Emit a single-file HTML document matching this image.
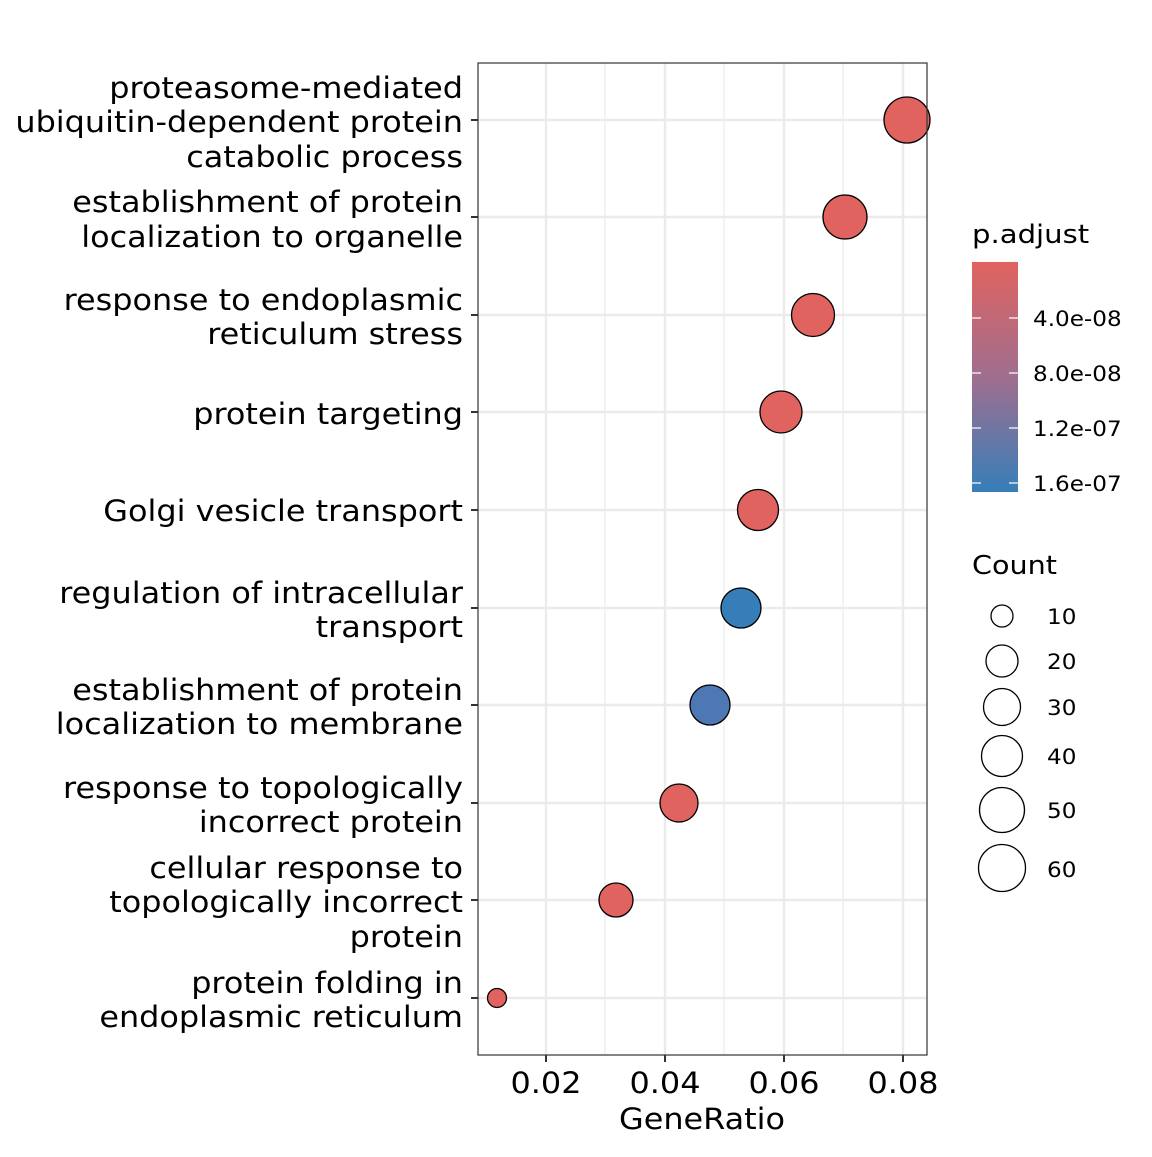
<!DOCTYPE html>
<html><head><meta charset="utf-8"><style>body{margin:0;background:#fff}</style></head><body>
<svg width="1152" height="1152" xmlns="http://www.w3.org/2000/svg" font-family="'DejaVu Sans','Liberation Sans',sans-serif">
<defs><linearGradient id="g" x1="0" y1="0" x2="0" y2="1"><stop offset="0" stop-color="#E0635F"/><stop offset="0.5" stop-color="#A06E8F"/><stop offset="1" stop-color="#377EB8"/></linearGradient></defs>
<rect x="478" y="63" width="449" height="992" fill="#fff"/>
<g stroke="#ebebeb" stroke-width="1.2">
<line x1="605" y1="63" x2="605" y2="1055"/><line x1="724" y1="63" x2="724" y2="1055"/><line x1="843" y1="63" x2="843" y2="1055"/>
</g>
<g stroke="#ebebeb" stroke-width="2.4">
<line x1="546" y1="63" x2="546" y2="1055"/><line x1="665" y1="63" x2="665" y2="1055"/><line x1="784" y1="63" x2="784" y2="1055"/><line x1="903" y1="63" x2="903" y2="1055"/>
<line x1="478" y1="120" x2="927" y2="120"/><line x1="478" y1="217" x2="927" y2="217"/><line x1="478" y1="315" x2="927" y2="315"/><line x1="478" y1="412" x2="927" y2="412"/><line x1="478" y1="510" x2="927" y2="510"/><line x1="478" y1="608" x2="927" y2="608"/><line x1="478" y1="705" x2="927" y2="705"/><line x1="478" y1="803" x2="927" y2="803"/><line x1="478" y1="900" x2="927" y2="900"/><line x1="478" y1="998" x2="927" y2="998"/>
</g>
<g stroke="#000" stroke-width="1.3">
<circle cx="907" cy="120" r="23" fill="#E0635F"/>
<circle cx="845" cy="217" r="22" fill="#E0635F"/>
<circle cx="813" cy="315" r="21.5" fill="#E0635F"/>
<circle cx="781" cy="412" r="21" fill="#E0635F"/>
<circle cx="758" cy="510" r="20.5" fill="#E0635F"/>
<circle cx="741" cy="608" r="20" fill="#377EB8"/>
<circle cx="710" cy="705" r="20" fill="#4E78B3"/>
<circle cx="679" cy="803" r="19" fill="#E0635F"/>
<circle cx="616" cy="900" r="17" fill="#E0635F"/>
<circle cx="497" cy="998" r="9.5" fill="#E0635F"/>
</g>
<rect x="478" y="63" width="449" height="992" fill="none" stroke="#333" stroke-width="1.2"/>
<g stroke="#333" stroke-width="2">
<line x1="471" y1="120" x2="478" y2="120"/><line x1="471" y1="217" x2="478" y2="217"/><line x1="471" y1="315" x2="478" y2="315"/><line x1="471" y1="412" x2="478" y2="412"/><line x1="471" y1="510" x2="478" y2="510"/><line x1="471" y1="608" x2="478" y2="608"/><line x1="471" y1="705" x2="478" y2="705"/><line x1="471" y1="803" x2="478" y2="803"/><line x1="471" y1="900" x2="478" y2="900"/><line x1="471" y1="998" x2="478" y2="998"/>
<line x1="546" y1="1055" x2="546" y2="1062"/><line x1="665" y1="1055" x2="665" y2="1062"/><line x1="784" y1="1055" x2="784" y2="1062"/><line x1="903" y1="1055" x2="903" y2="1062"/>
</g>
<g font-size="29" fill="#000" text-anchor="middle">
<text transform="translate(546,0) scale(1.1,1)" x="0" y="1093">0.02</text>
<text transform="translate(665,0) scale(1.1,1)" x="0" y="1093">0.04</text>
<text transform="translate(784,0) scale(1.1,1)" x="0" y="1093">0.06</text>
<text transform="translate(903,0) scale(1.1,1)" x="0" y="1093">0.08</text>
<text transform="translate(702,0) scale(1.1,1)" x="0" y="1129">GeneRatio</text>
</g>
<g font-size="29" fill="#000" text-anchor="end" transform="translate(463,0) scale(1.1,1)">
<text x="0" y="98">proteasome-mediated</text><text x="0" y="132">ubiquitin-dependent protein</text><text x="0" y="167">catabolic process</text>
<text x="0" y="212">establishment of protein</text><text x="0" y="247">localization to organelle</text>
<text x="0" y="310">response to endoplasmic</text><text x="0" y="344">reticulum stress</text>
<text x="0" y="424">protein targeting</text>
<text x="0" y="521">Golgi vesicle transport</text>
<text x="0" y="603">regulation of intracellular</text><text x="0" y="637">transport</text>
<text x="0" y="700">establishment of protein</text><text x="0" y="734">localization to membrane</text>
<text x="0" y="798">response to topologically</text><text x="0" y="832">incorrect protein</text>
<text x="0" y="878">cellular response to</text><text x="0" y="912">topologically incorrect</text><text x="0" y="947">protein</text>
<text x="0" y="993">protein folding in</text><text x="0" y="1027">endoplasmic reticulum</text>
</g>
<text transform="translate(972,0) scale(1.12,1)" x="0" y="243" font-size="26">p.adjust</text>
<rect x="972" y="262" width="46" height="230" fill="url(#g)"/>
<g stroke="#fff" stroke-width="1.2">
<line x1="972" y1="318" x2="981" y2="318"/><line x1="1009" y1="318" x2="1018" y2="318"/>
<line x1="972" y1="373" x2="981" y2="373"/><line x1="1009" y1="373" x2="1018" y2="373"/>
<line x1="972" y1="428" x2="981" y2="428"/><line x1="1009" y1="428" x2="1018" y2="428"/>
<line x1="972" y1="483" x2="981" y2="483"/><line x1="1009" y1="483" x2="1018" y2="483"/>
</g>
<g font-size="21" fill="#000" transform="translate(1033,0) scale(1.1,1)">
<text x="0" y="326">4.0e-08</text><text x="0" y="381">8.0e-08</text><text x="0" y="436">1.2e-07</text><text x="0" y="491">1.6e-07</text>
</g>
<text transform="translate(972,0) scale(1.1,1)" x="0" y="574" font-size="26">Count</text>
<g fill="none" stroke="#000" stroke-width="1.3">
<circle cx="1002" cy="616" r="11"/><circle cx="1002" cy="661" r="16"/><circle cx="1002" cy="707" r="18.5"/><circle cx="1002" cy="756" r="20.5"/><circle cx="1002" cy="810" r="22.5"/><circle cx="1002" cy="868" r="23.5"/>
</g>
<g font-size="21" fill="#000" transform="translate(1047,0) scale(1.1,1)">
<text x="0" y="624">10</text><text x="0" y="669">20</text><text x="0" y="715">30</text><text x="0" y="764">40</text><text x="0" y="818">50</text><text x="0" y="877">60</text>
</g>
</svg>
</body></html>
